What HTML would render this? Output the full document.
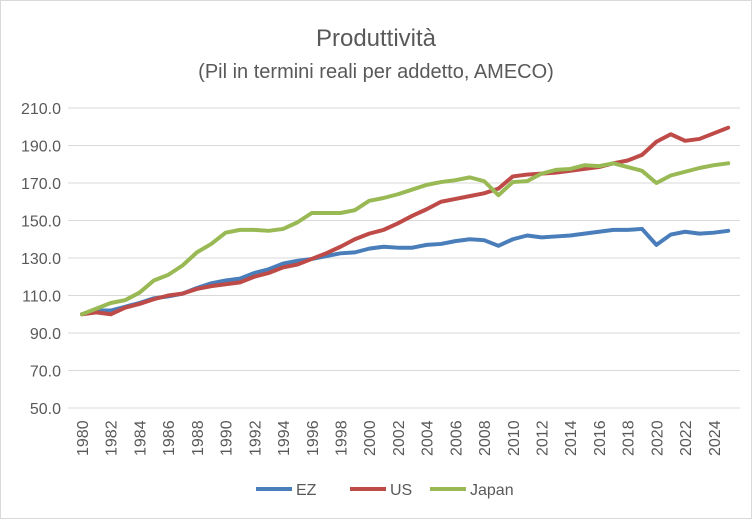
<!DOCTYPE html>
<html><head><meta charset="utf-8"><style>
body{margin:0;background:#fff;font-family:"Liberation Sans",sans-serif}
svg{display:block}
</style></head><body>
<svg id="chart" width="752" height="519">
<rect x="0.5" y="0.5" width="751" height="518" fill="#fff" stroke="#d9d9d9"/>
<text x="376" y="46" text-anchor="middle" font-size="24" fill="#595959">Produttività</text>
<text x="376" y="78" text-anchor="middle" font-size="20" fill="#595959">(Pil in termini reali per addetto, AMECO)</text>
<g id="grid"></g><g id="yt"></g><g id="xt"></g><g id="series"></g><g id="legend"></g>
</svg>
<script>
const years=[];for(let y=1980;y<=2025;y++)years.push(y);
const yTicks=[50,70,90,110,130,150,170,190,210];
const ez=[100,102,102,104,106,108.5,109.5,111,114,116.5,118,119,122,124,127,128.5,129.5,131,132.5,133,135,136,135.5,135.5,137,137.5,139,140,139.5,136.5,140,142,141,141.5,142,143,144,145,145,145.5,137,142.5,144,143,143.5,144.5];
const us=[100,101,100,103.5,105.5,108,110,111,113.5,115,116,117,120,122,125,126.5,129.5,132.5,136,140,143,145,148.5,152.5,156,160,161.5,163,164.5,167,173.5,174.5,175,175.5,176.5,177.5,178.5,180.5,182,185,192,196,192.5,193.5,196.5,199.5];
const japan=[100,103,106,107.5,111.5,118,121,126,133,137.5,143.5,145,145,144.5,145.5,149,154,154,154,155.5,160.5,162,164,166.5,169,170.5,171.5,173,171,163.5,170.5,171,175,177,177.5,179.5,179,180.5,178.5,176.5,170,174,176,178,179.5,180.5];
const NS="http://www.w3.org/2000/svg";
const X=y=>82+(y-1980)*14.36;
const Y=v=>408-(v-50)*1.875;
function mk(t,a,p){const e=document.createElementNS(NS,t);for(const k in a)e.setAttribute(k,a[k]);p.appendChild(e);return e;}
const grid=document.getElementById('grid'),yt=document.getElementById('yt'),xt=document.getElementById('xt');
yTicks.forEach(v=>{
 const l=mk('line',{x1:68,x2:740,y1:Y(v),y2:Y(v),stroke:'#d9d9d9','stroke-width':1},grid);
 
 
 const t=mk('text',{x:61,y:Y(v)+6,'text-anchor':'end','font-size':16,fill:'#595959'},yt);
 t.textContent=v.toFixed(1);
 
 
});
years.filter(y=>y%2===0).forEach(y=>{
 const t=mk('text',{transform:`translate(${X(y)+6},456) rotate(-90)`,'font-size':16,fill:'#595959'},xt);
 t.textContent=y;
 
 
});
const ser=[['ez',ez,'#4a7ebb','EZ'],['us',us,'#be4b48','US'],['japan',japan,'#98b954','Japan']];
const sg=document.getElementById('series');
ser.forEach(([n,d,c])=>{
 const p=mk('polyline',{points:d.map((v,i)=>X(years[i])+','+Y(v)).join(' '),fill:'none',stroke:c,'stroke-width':4,'stroke-linejoin':'round','stroke-linecap':'round'},sg);
 
 
});
const lg=document.getElementById('legend');
const lx=[256,350,430];
ser.forEach(([n,d,c,lab],i)=>{
 const g=mk('g',{},lg);
 
 
 mk('line',{x1:lx[i],x2:lx[i]+36,y1:489,y2:489,stroke:c,'stroke-width':4},g);
 const t=mk('text',{x:lx[i]+40,y:495,'font-size':16,fill:'#595959'},g);
 t.textContent=lab;
});
</script>
</body></html>
